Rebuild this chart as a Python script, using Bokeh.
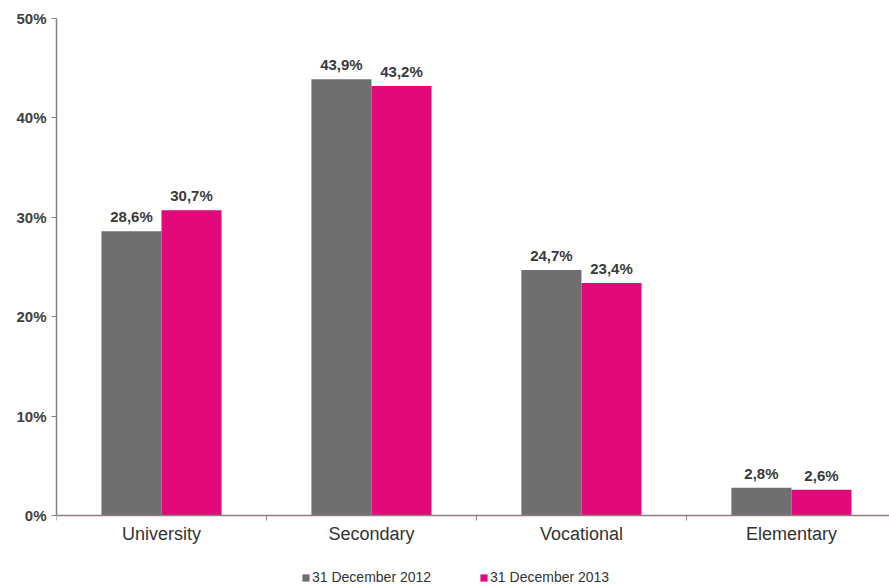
import math
from bokeh.plotting import figure
from bokeh.models import ColumnDataSource, FixedTicker, Range1d, Legend, LegendItem, Span
from bokeh.core.properties import value
from bokeh.embed import file_html
from bokeh.resources import INLINE

categories = ["University", "Secondary", "Vocational", "Elementary"]
s2012 = [28.6, 43.9, 24.7, 2.8]
s2013 = [30.7, 43.2, 23.4, 2.6]
series_names = ["31 December 2012", "31 December 2013"]
y_ticks = [0, 10, 20, 30, 40, 50]

GRAY = "#6f6f71"
PINK = "#e2097b"
AXIS = "#8c7f7d"
TXT = "#333333"
FONT = "Liberation Sans"

n = len(categories)
centers = [i + 0.5 for i in range(n)]
bounds = [float(i) for i in range(n + 1)]
x12 = [c - 0.143 for c in centers]
x13 = [c + 0.143 for c in centers]
fmt = lambda v: ("%.1f%%" % v).replace(".", ",")

src12 = ColumnDataSource(dict(x=x12, top=s2012, lab=[fmt(v) for v in s2012]))
src13 = ColumnDataSource(dict(x=x13, top=s2013, lab=[fmt(v) for v in s2013]))
cat_src = ColumnDataSource(dict(x=centers, y=[0] * n, name=categories))
tick_src = ColumnDataSource(dict(x=bounds, y=[0] * len(bounds)))

# frame spans from y=18 to the window bottom; 0% sits 73 px above the bottom
px_per_unit = 497 / 50.0
p = figure(width=889, height=588, output_backend="svg", toolbar_location=None,
           x_axis_location=None,
           x_range=Range1d(0, 3.967), y_range=Range1d(-73 / px_per_unit, 50),
           min_border_left=56, min_border_right=0, min_border_top=18, min_border_bottom=0)
p.outline_line_color = None
p.xgrid.visible = False
p.ygrid.visible = False
p.background_fill_color = "white"
p.border_fill_color = "white"

r12 = p.vbar(x="x", top="top", bottom=0, width=0.286, source=src12, fill_color=GRAY, line_color=None)
r13 = p.vbar(x="x", top="top", bottom=0, width=0.286, source=src13, fill_color=PINK, line_color=None)

for src in (src12, src13):
    p.text(x="x", y="top", text="lab", source=src, text_align="center", text_baseline="bottom",
           y_offset=-6, text_font=value(FONT), text_font_size="15px", text_font_style="bold",
           text_color="#3a3a3a")

# x axis: baseline, boundary ticks and category labels
p.add_layout(Span(location=0, dimension="width", line_color=AXIS, line_width=1.5))
p.ray(x="x", y="y", source=tick_src, length=5, length_units="screen", angle=-math.pi / 2,
      line_color=AXIS, line_width=1)
p.text(x="x", y="y", text="name", source=cat_src, text_align="center", text_baseline="top",
       y_offset=8, text_font=value(FONT), text_font_size="18px", text_color=TXT)

# y axis
p.yaxis.bounds = (0, 50)
p.yaxis.ticker = FixedTicker(ticks=y_ticks, minor_ticks=[])
p.yaxis.major_label_overrides = {t: "%d%%" % t for t in y_ticks}
p.yaxis.major_tick_out = 5
p.yaxis.major_tick_in = 0
p.yaxis.major_tick_line_color = AXIS
p.yaxis.axis_line_color = AXIS
p.yaxis.axis_line_width = 1.5
p.yaxis.major_label_text_font = FONT
p.yaxis.major_label_text_font_size = "15px"
p.yaxis.major_label_text_font_style = "bold"
p.yaxis.major_label_text_color = "#404040"
p.yaxis.major_label_standoff = 5

legend = Legend(items=[LegendItem(label=series_names[0], renderers=[r12]),
                       LegendItem(label=series_names[1], renderers=[r13])],
                orientation="horizontal", location=(245, 3),
                label_text_font=FONT, label_text_font_size="14px", label_text_color=TXT,
                glyph_width=9, glyph_height=9, spacing=48, label_standoff=2,
                border_line_color=None, background_fill_alpha=0, padding=2, margin=0)
p.add_layout(legend, "center")

open("out.html", "w").write(file_html(p, INLINE))
